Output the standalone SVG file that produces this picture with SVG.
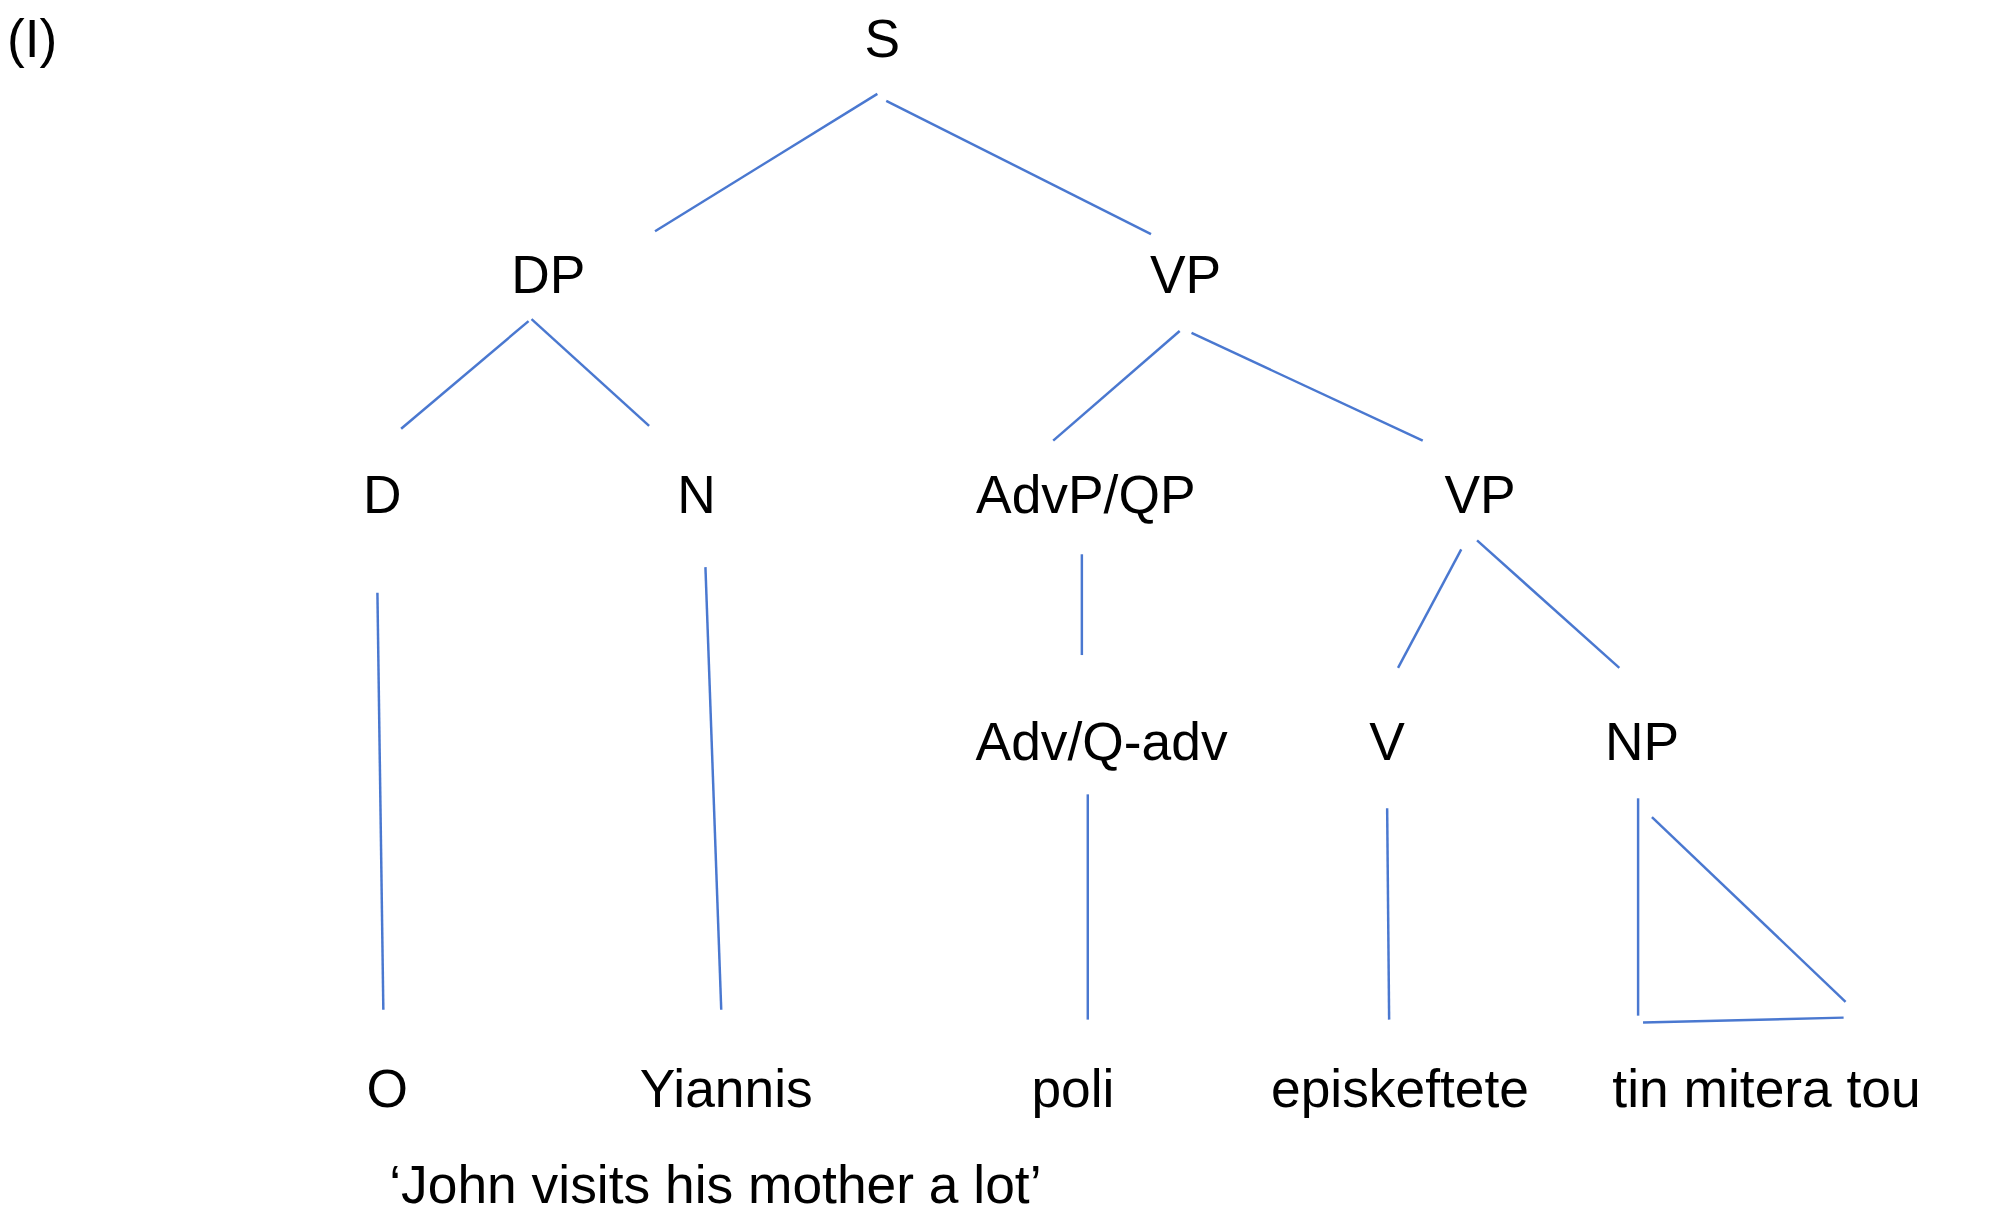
<svg xmlns="http://www.w3.org/2000/svg" width="2000" height="1226" viewBox="0 0 2000 1226">
<style>
text{font-family:"Liberation Sans",Arial,sans-serif;font-size:54px;fill:#000;text-anchor:middle}
line{stroke:#4a78d0;stroke-width:2.5}
</style>
<rect width="2000" height="1226" fill="#fff"/>
<g transform="scale(0.988)">
<text x="7" y="58" style="text-anchor:start">(I)</text>
<g id="S"><text x="893" y="58">S</text></g>
<g id="DP"><text x="555" y="297">DP</text></g>
<g id="VP1"><text x="1200" y="297">VP</text></g>
<g id="D"><text x="387" y="519">D</text></g>
<g id="N"><text x="705" y="519">N</text></g>
<g id="AdvP"><text x="1099" y="519">AdvP/QP</text></g>
<g id="VP2"><text x="1498" y="519">VP</text></g>
<g id="Adv"><text x="1115" y="769">Adv/Q-adv</text></g>
<g id="V"><text x="1404" y="769">V</text></g>
<g id="NP"><text x="1662" y="769">NP</text></g>
<g id="O"><text x="392" y="1120">O</text></g>
<g id="Yiannis"><text x="735" y="1120">Yiannis</text></g>
<g id="poli"><text x="1086" y="1120">poli</text></g>
<g id="episkeftete"><text x="1417" y="1120">episkeftete</text></g>
<g id="tin"><text x="1788" y="1120">tin mitera tou</text></g>
<g id="gloss"><text x="394" y="1218" style="text-anchor:start">‘John visits his mother a lot’</text></g>
<g id="connectors">
<line x1="888" y1="95" x2="663" y2="234"/>
<line x1="897" y1="102" x2="1165" y2="237"/>
<line x1="535" y1="325" x2="406" y2="434"/>
<line x1="538" y1="323" x2="657" y2="431"/>
<line x1="1194" y1="335" x2="1066" y2="446"/>
<line x1="1206" y1="337" x2="1440" y2="446"/>
<line x1="382" y1="600" x2="388" y2="1022"/>
<line x1="714" y1="574" x2="730" y2="1022"/>
<line x1="1095" y1="561" x2="1095" y2="663"/>
<line x1="1479" y1="556" x2="1415" y2="676"/>
<line x1="1495" y1="547" x2="1639" y2="676"/>
<line x1="1101" y1="804" x2="1101" y2="1032"/>
<line x1="1404" y1="818" x2="1406" y2="1032"/>
<line x1="1658" y1="808" x2="1658" y2="1028"/>
<line x1="1672" y1="827" x2="1868" y2="1014"/>
<line x1="1663" y1="1035" x2="1866" y2="1030"/>
</g>
</g>
</svg>
